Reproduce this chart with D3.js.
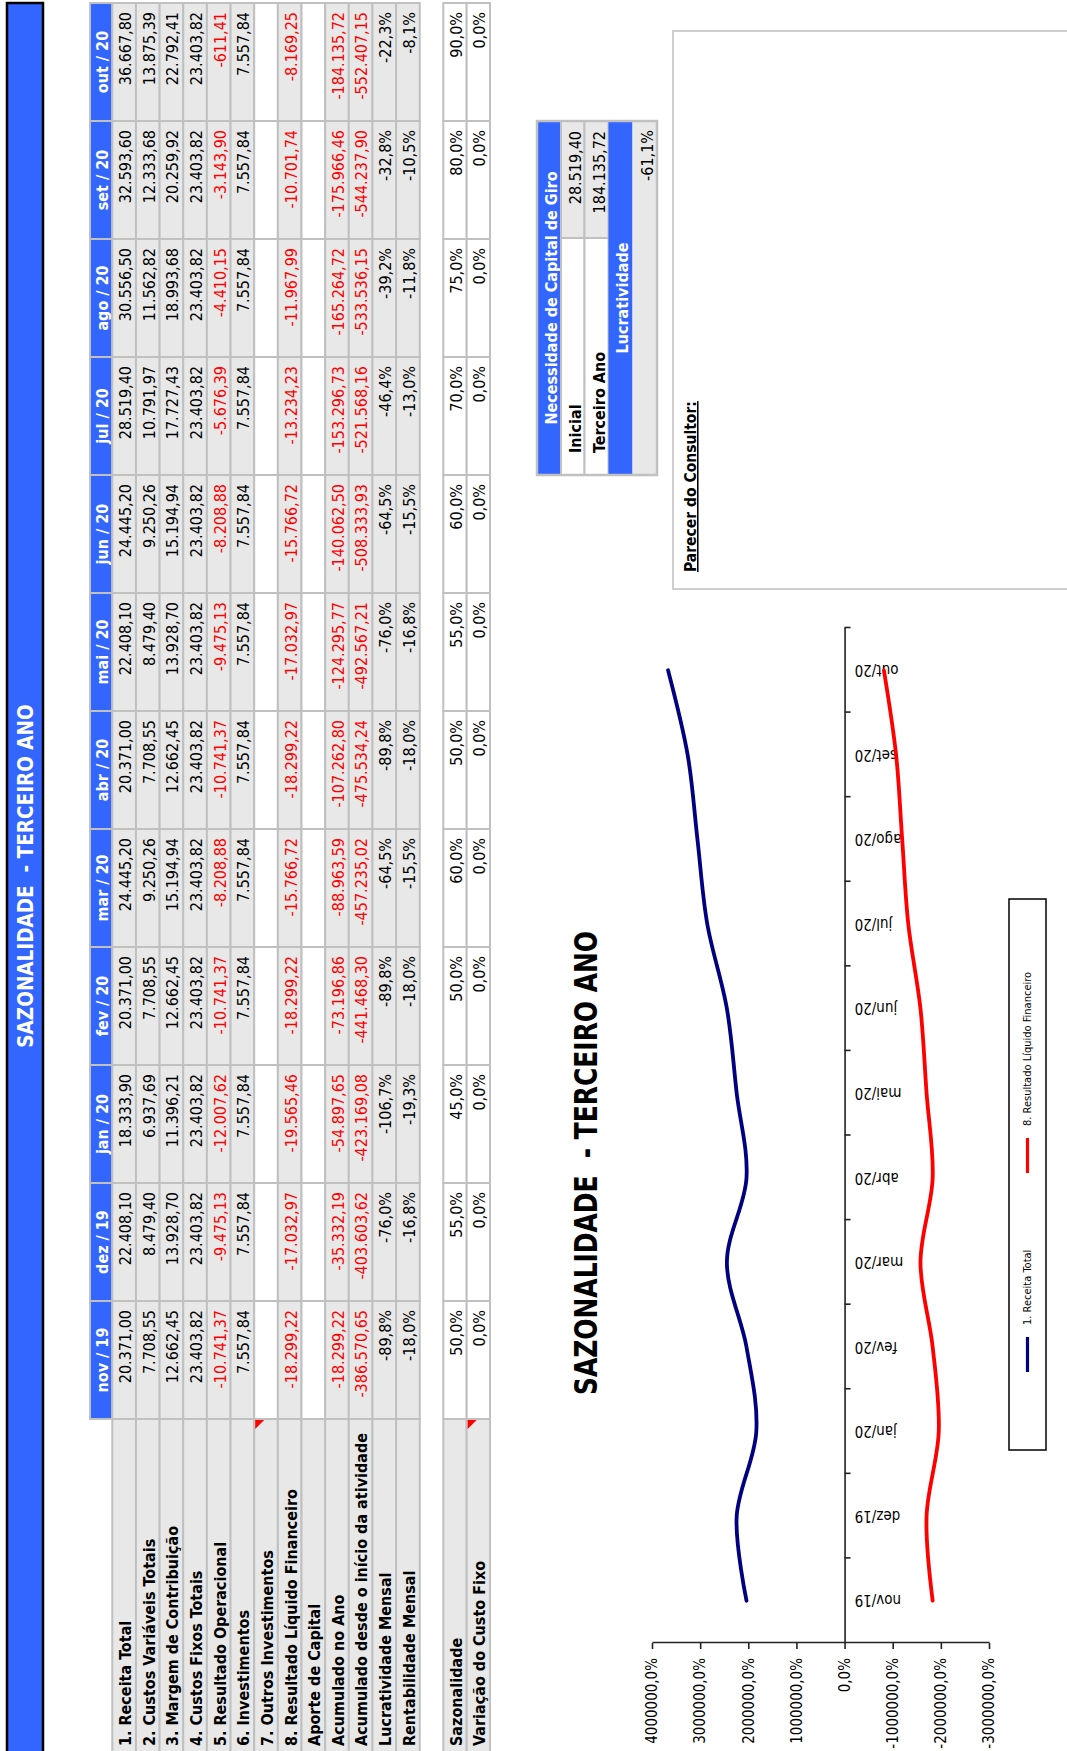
<!DOCTYPE html>
<html>
<head>
<meta charset="utf-8">
<script src="https://cdn.jsdelivr.net/npm/d3@7"></script>
<style>
  html, body { margin: 0; padding: 0; background: #fff; }
  svg { display: block; }
  text { font-family: "DejaVu Sans Condensed", "DejaVu Sans", "Liberation Sans", sans-serif; font-stretch: condensed; }
</style>
</head>
<body>
<svg id="page" width="1067" height="1751"></svg>
<script>
// ---- data ---------------------------------------------------------------
const months = ["nov / 19", "dez / 19", "jan / 20", "fev / 20", "mar / 20", "abr / 20",
                "mai / 20", "jun / 20", "jul / 20", "ago / 20", "set / 20", "out / 20"];
const monthsShort = ["nov/19", "dez/19", "jan/20", "fev/20", "mar/20", "abr/20",
                     "mai/20", "jun/20", "jul/20", "ago/20", "set/20", "out/20"];

const receitaTotal = [20371.00, 22408.10, 18333.90, 20371.00, 24445.20, 20371.00,
                      22408.10, 24445.20, 28519.40, 30556.50, 32593.60, 36667.80];
const custosVariaveis = [7708.55, 8479.40, 6937.69, 7708.55, 9250.26, 7708.55,
                         8479.40, 9250.26, 10791.97, 11562.82, 12333.68, 13875.39];
const margemContribuicao = [12662.45, 13928.70, 11396.21, 12662.45, 15194.94, 12662.45,
                            13928.70, 15194.94, 17727.43, 18993.68, 20259.92, 22792.41];
const custosFixos = [23403.82, 23403.82, 23403.82, 23403.82, 23403.82, 23403.82,
                     23403.82, 23403.82, 23403.82, 23403.82, 23403.82, 23403.82];
const resultadoOperacional = [-10741.37, -9475.13, -12007.62, -10741.37, -8208.88, -10741.37,
                              -9475.13, -8208.88, -5676.39, -4410.15, -3143.90, -611.41];
const investimentos = [7557.84, 7557.84, 7557.84, 7557.84, 7557.84, 7557.84,
                       7557.84, 7557.84, 7557.84, 7557.84, 7557.84, 7557.84];
const outrosInvestimentos = [null, null, null, null, null, null, null, null, null, null, null, null];
const resultadoLiquido = [-18299.22, -17032.97, -19565.46, -18299.22, -15766.72, -18299.22,
                          -17032.97, -15766.72, -13234.23, -11967.99, -10701.74, -8169.25];
const aporteCapital = [null, null, null, null, null, null, null, null, null, null, null, null];
const acumuladoAno = [-18299.22, -35332.19, -54897.65, -73196.86, -88963.59, -107262.80,
                      -124295.77, -140062.50, -153296.73, -165264.72, -175966.46, -184135.72];
const acumuladoInicio = [-386570.65, -403603.62, -423169.08, -441468.30, -457235.02, -475534.24,
                         -492567.21, -508333.93, -521568.16, -533536.15, -544237.90, -552407.15];
const lucratividadeMensal = [-89.8, -76.0, -106.7, -89.8, -64.5, -89.8,
                             -76.0, -64.5, -46.4, -39.2, -32.8, -22.3];
const rentabilidadeMensal = [-18.0, -16.8, -19.3, -18.0, -15.5, -18.0,
                             -16.8, -15.5, -13.0, -11.8, -10.5, -8.1];
const sazonalidade = [50, 55, 45, 50, 60, 50, 55, 60, 70, 75, 80, 90];
const variacaoCustoFixo = [0, 0, 0, 0, 0, 0, 0, 0, 0, 0, 0, 0];

const capitalGiroLabels = ["Inicial", "Terceiro Ano"];
const capitalGiroValues = [28519.40, 184135.72];
const lucratividadeTotal = -61.1;

const valueTicks = [40000, 30000, 20000, 10000, 0, -10000, -20000, -30000];
const seriesNames = ["1. Receita Total", "8. Resultado Líquido Financeiro"];

// rows of the main table, built from the arrays above
const mainRows = [
  { label: "1. Receita Total", values: receitaTotal, kind: "money" },
  { label: "2. Custos Variáveis Totais", values: custosVariaveis, kind: "money" },
  { label: "3. Margem de Contribuição", values: margemContribuicao, kind: "money" },
  { label: "4. Custos Fixos Totais", values: custosFixos, kind: "money" },
  { label: "5. Resultado Operacional", values: resultadoOperacional, kind: "money" },
  { label: "6. Investimentos", values: investimentos, kind: "money" },
  { label: "7. Outros Investimentos", values: outrosInvestimentos, kind: "money", note: true },
  { label: "8. Resultado Líquido Financeiro", values: resultadoLiquido, kind: "money" },
  { label: "Aporte de Capital", values: aporteCapital, kind: "money" },
  { label: "Acumulado no Ano", values: acumuladoAno, kind: "money" },
  { label: "Acumulado desde o início da atividade", values: acumuladoInicio, kind: "money" },
  { label: "Lucratividade Mensal", values: lucratividadeMensal, kind: "pct" },
  { label: "Rentabilidade Mensal", values: rentabilidadeMensal, kind: "pct" }
];
const seasonRows = [
  { label: "Sazonalidade", values: sazonalidade, kind: "pct", blank: true },
  { label: "Variação do Custo Fixo", values: variacaoCustoFixo, kind: "pct", blank: true, note: true }
];

// ---- formatting ---------------------------------------------------------
const locale = d3.formatLocale({ decimal: ",", thousands: ".", grouping: [3],
                                 currency: ["R$ ", ""], minus: "-", percent: "%" });
const fmtMoney = locale.format(",.2f");
const fmtPct = v => locale.format(".1f")(v) + "%";
const fmtAxis = locale.format(".1%");

const BLUE = "#3366FF", GRID = "#C0C0C0", CELL = "#E8E8E8", NEG = "#FF0000";
const CELL_FONT = 16;

// the sheet is laid out landscape and turned a quarter turn on the page
const svg = d3.select("#page");
const root = svg.append("g").attr("transform", "translate(0,1751) rotate(-90)");

// ---- title bar ----------------------------------------------------------
root.append("rect").attr("x", -3).attr("y", 7).attr("width", 1751).attr("height", 36)
  .attr("fill", BLUE).attr("stroke", "#000").attr("stroke-width", 2.5);
root.append("text").attr("x", 875).attr("y", 32.5).attr("text-anchor", "middle")
  .attr("fill", "#fff").attr("font-weight", "bold").attr("font-size", 20.5)
  .style("white-space", "pre")
  .text("SAZONALIDADE  - TERCEIRO ANO");

// ---- main table ---------------------------------------------------------
const labelLeft = -3, labelRight = 332;
const colX = d3.scaleBand().domain(months).range([332, 1748]);
const headTop = 90, rowTop0 = 112.3, rowH = 23.65;
const rowY = d3.scaleBand().domain(d3.range(mainRows.length))
  .range([rowTop0, rowTop0 + rowH * mainRows.length]);

const table = root.append("g");

// header row
table.selectAll("rect.head").data(months).join("rect")
  .attr("x", d => colX(d)).attr("y", headTop)
  .attr("width", colX.bandwidth()).attr("height", rowTop0 - headTop)
  .attr("fill", BLUE).attr("stroke", GRID).attr("stroke-width", 2);
table.selectAll("text.head").data(months).join("text")
  .attr("x", d => colX(d) + colX.bandwidth() / 2).attr("y", rowTop0 - 4.5)
  .attr("text-anchor", "middle").attr("fill", "#fff")
  .attr("font-weight", "bold").attr("font-size", CELL_FONT).text(d => d);

function drawRows(g, rows, yScale) {
  const h = yScale.bandwidth();
  rows.forEach((row, ri) => {
    const top = yScale(ri);
    g.append("rect").attr("x", labelLeft).attr("y", top)
      .attr("width", labelRight - labelLeft).attr("height", h)
      .attr("fill", CELL).attr("stroke", GRID).attr("stroke-width", 2);
    g.append("text").attr("x", 5).attr("y", top + h - 5)
      .attr("font-weight", "bold").attr("font-size", CELL_FONT).text(row.label);
    if (row.note) {
      g.append("path")
        .attr("d", `M${labelRight - 1},${top + 1}L${labelRight - 10},${top + 1}L${labelRight - 1},${top + 10}Z`)
        .attr("fill", NEG);
    }
    const empty = row.values.every(v => v === null);
    g.selectAll(null).data(row.values).join("rect")
      .attr("x", (d, i) => colX(months[i])).attr("y", top)
      .attr("width", colX.bandwidth()).attr("height", h)
      .attr("fill", (empty || row.blank) ? "#fff" : CELL)
      .attr("stroke", GRID).attr("stroke-width", 2);
    g.selectAll(null).data(row.values.map((v, i) => ({ v, i })).filter(d => d.v !== null)).join("text")
      .attr("x", d => colX(months[d.i]) + colX.bandwidth() - 9)
      .attr("y", top + h - 5)
      .attr("text-anchor", "end").attr("font-size", CELL_FONT)
      .attr("fill", d => (row.kind === "money" && d.v < 0) ? NEG : "#000")
      .text(d => row.kind === "money" ? fmtMoney(d.v) : fmtPct(d.v));
  });
}
drawRows(table, mainRows, rowY);

const seasonY = d3.scaleBand().domain(d3.range(seasonRows.length)).range([443.3, 490]);
drawRows(root.append("g"), seasonRows, seasonY);

// ---- working capital summary -------------------------------------------
const sumLeft = 1276, sumMid = 1513, sumRight = 1630;
const sumRows = [537, 561, 584.5, 608.5, 632.5, 657];
const summary = root.append("g");
summary.append("rect").attr("x", sumLeft).attr("y", sumRows[0])
  .attr("width", sumRight - sumLeft).attr("height", sumRows[1] - sumRows[0]).attr("fill", BLUE);
summary.append("text").attr("x", (sumLeft + sumRight) / 2).attr("y", sumRows[1] - 4.5)
  .attr("text-anchor", "middle").attr("fill", "#fff").attr("font-weight", "bold")
  .attr("font-size", CELL_FONT).text("Necessidade de Capital de Giro");
capitalGiroLabels.forEach((lab, i) => {
  const top = sumRows[1 + i], bot = sumRows[2 + i];
  summary.append("rect").attr("x", sumLeft).attr("y", top).attr("width", sumMid - sumLeft)
    .attr("height", bot - top).attr("fill", "#fff").attr("stroke", GRID).attr("stroke-width", 2);
  summary.append("rect").attr("x", sumMid).attr("y", top).attr("width", sumRight - sumMid)
    .attr("height", bot - top).attr("fill", CELL).attr("stroke", GRID).attr("stroke-width", 2);
  summary.append("text").attr("x", sumLeft + 22).attr("y", bot - 4)
    .attr("font-weight", "bold").attr("font-size", CELL_FONT).text(lab);
  summary.append("text").attr("x", sumRight - 10).attr("y", bot - 4)
    .attr("text-anchor", "end").attr("font-size", CELL_FONT).text(fmtMoney(capitalGiroValues[i]));
});
summary.append("rect").attr("x", sumLeft).attr("y", sumRows[3])
  .attr("width", sumRight - sumLeft).attr("height", sumRows[4] - sumRows[3]).attr("fill", BLUE);
summary.append("text").attr("x", (sumLeft + sumRight) / 2).attr("y", sumRows[4] - 4.5)
  .attr("text-anchor", "middle").attr("fill", "#fff").attr("font-weight", "bold")
  .attr("font-size", CELL_FONT).text("Lucratividade");
summary.append("rect").attr("x", sumLeft).attr("y", sumRows[4])
  .attr("width", sumRight - sumLeft).attr("height", sumRows[5] - sumRows[4]).attr("fill", CELL);
summary.append("text").attr("x", sumRight - 9).attr("y", sumRows[5] - 4.5)
  .attr("text-anchor", "end").attr("font-size", CELL_FONT).text(fmtPct(lucratividadeTotal));
summary.append("rect").attr("x", sumLeft).attr("y", sumRows[0])
  .attr("width", sumRight - sumLeft).attr("height", sumRows[5] - sumRows[0])
  .attr("fill", "none").attr("stroke", GRID).attr("stroke-width", 2.5);

// ---- consultant notes box ------------------------------------------------
root.append("rect").attr("x", 1162).attr("y", 673).attr("width", 558).attr("height", 420)
  .attr("fill", "none").attr("stroke", GRID).attr("stroke-width", 1.5);
root.append("text").attr("x", 1179).attr("y", 696).attr("font-weight", "bold")
  .attr("font-size", 15.5).attr("text-decoration", "underline").text("Parecer do Consultor:");

// ---- chart --------------------------------------------------------------
const chart = root.append("g");
const x = d3.scaleBand().domain(monthsShort).range([108, 1123]);
const y = d3.scaleLinear().domain([-30000, 40000]).range([989, 652]);

chart.append("text").attr("x", 588).attr("y", 597).attr("text-anchor", "middle")
  .attr("font-weight", "bold").attr("font-size", 32)
  .attr("textLength", 464).attr("lengthAdjust", "spacingAndGlyphs")
  .style("white-space", "pre")
  .text("SAZONALIDADE  - TERCEIRO ANO");

// value axis
const yAxis = chart.append("g").attr("transform", "translate(108,0)")
  .call(d3.axisLeft(y).tickValues(valueTicks).tickSize(6).tickSizeOuter(0)
        .tickPadding(9).tickFormat(fmtAxis));
yAxis.selectAll("text").attr("font-size", 15).attr("fill", "#000")
  .style("font-family", "\"DejaVu Sans Condensed\", \"DejaVu Sans\", sans-serif");
yAxis.selectAll("path,line").attr("stroke", "#222").attr("stroke-width", 1.6);

// category axis crossing at zero, ticks between categories
const boundary = d3.scaleLinear().domain([0, monthsShort.length]).range(x.range());
const tickAxis = chart.append("g").attr("transform", `translate(0,${y(0)})`)
  .call(d3.axisBottom(boundary).tickValues(d3.range(1, monthsShort.length + 1))
        .tickSize(6).tickSizeOuter(0).tickFormat(""));
tickAxis.select(".domain").remove();
tickAxis.selectAll("line").attr("stroke", "#222").attr("stroke-width", 1.6);

const xAxis = chart.append("g").attr("transform", `translate(0,${y(0)})`)
  .call(d3.axisBottom(x).tickSize(0).tickSizeOuter(0));
xAxis.select(".domain").attr("stroke", "#222").attr("stroke-width", 1.6);
xAxis.selectAll("text")
  .attr("transform", "rotate(-90)").attr("text-anchor", "end")
  .attr("x", -10).attr("y", 0).attr("dy", "0.35em")
  .attr("font-size", 15).attr("fill", "#000")
  .style("font-family", "\"DejaVu Sans Condensed\", \"DejaVu Sans\", sans-serif");

const line = d3.line()
  .x((d, i) => x(monthsShort[i]) + x.bandwidth() / 2)
  .y(d => y(d))
  .curve(d3.curveCardinal.tension(0));
const series = [
  { name: seriesNames[0], values: receitaTotal, color: "#000080" },
  { name: seriesNames[1], values: resultadoLiquido, color: "#FF0000" }
];
chart.selectAll("path.series").data(series).join("path")
  .attr("class", "series")
  .attr("d", d => line(d.values))
  .attr("fill", "none").attr("stroke", d => d.color)
  .attr("stroke-width", 3.8).attr("stroke-linecap", "round");

// legend
const legend = chart.append("g");
legend.append("rect").attr("x", 301).attr("y", 1009).attr("width", 551).attr("height", 37)
  .attr("fill", "#fff").attr("stroke", "#000").attr("stroke-width", 1.5);
const legendX = d3.scalePoint().domain(seriesNames).range([379, 578]);
const item = legend.selectAll("g.item").data(series).join("g")
  .attr("class", "item")
  .attr("transform", d => `translate(${legendX(d.name)},1027.5)`);
item.append("line").attr("x1", 0).attr("x2", 35).attr("y1", 0).attr("y2", 0)
  .attr("stroke", d => d.color).attr("stroke-width", 3.2);
item.append("text").attr("x", 47).attr("y", 0).attr("dy", "0.35em")
  .attr("font-size", 11).text(d => d.name);
</script>
</body>
</html>
